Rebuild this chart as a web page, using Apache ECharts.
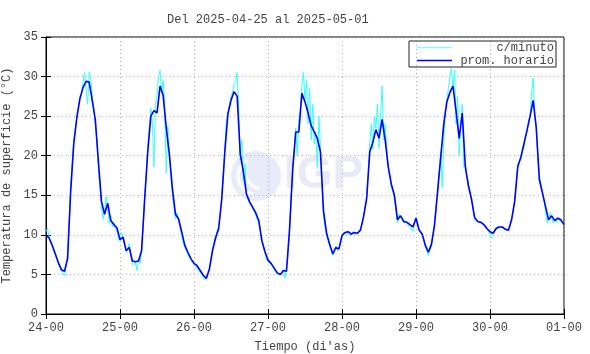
<!DOCTYPE html>
<html>
<head>
<meta charset="utf-8">
<script src="https://cdn.jsdelivr.net/npm/echarts@6/dist/echarts.min.js"></script>
<style>
html,body{margin:0;padding:0;background:#fff;}
#c{width:590px;height:354px;}
</style>
</head>
<body>
<div id="c"></div>
<script>
// ---- data ----
var titleText = 'Del 2025-04-25 al 2025-05-01';
var tickLabels = ['24-00','25-00','26-00','27-00','28-00','29-00','30-00','01-00'];
var seriesNames = ['c/minuto','prom. horario'];

// hourly averages (one value per hour, day by day)
var hourly24 = [10.0,9.6,8.7,7.6,6.5,5.6,5.4,7.0,15.5,21.5,24.8,27.2,28.6,29.4,29.3,27.0,24.5,19.2,14.2,12.6,14.0,11.8,11.3,10.9];
var hourly25 = [9.4,9.7,8.0,8.4,6.7,6.6,6.7,8.0,14.5,20.5,25.0,25.7,25.4,28.8,27.6,23.5,20.2,15.8,12.6,12.0,10.4,8.7,7.8,7.0];
var hourly26 = [6.4,6.1,5.5,4.9,4.5,5.7,8.0,9.6,10.8,14.5,20.5,25.3,27.0,28.1,27.5,20.2,18.0,15.2,14.2,13.5,12.8,11.8,9.3,7.9];
var hourly27 = [6.8,6.4,5.8,5.2,5.0,5.5,5.4,10.8,18.2,23.0,23.0,27.9,26.8,25.4,23.8,23.0,22.2,20.5,13.0,10.2,8.8,7.6,8.4,8.2];
var hourly28 = [9.9,10.3,10.4,10.1,10.3,10.2,10.6,12.3,14.6,20.5,21.7,23.3,22.2,24.6,22.0,18.6,16.4,15.0,11.9,12.4,11.7,11.6,11.3,11.0];
var hourly29 = [12.1,10.6,10.1,8.7,7.8,8.8,11.2,15.5,19.7,24.0,26.8,28.0,28.8,25.6,22.2,25.4,18.6,16.2,14.5,12.2,11.7,11.6,11.3,10.8];
var hourly30 = [10.4,10.2,10.8,11.0,11.0,10.7,10.6,11.9,14.2,18.6,19.8,21.5,23.2,25.0,27.0,23.5,17.0,15.3,13.6,11.9,12.4,11.8,12.1,11.9];
var hourlyEnd = [11.3];

// minute readings, sampled every 30 minutes (two values per hour)
var minute24 = [10.4,10.8,9.8,9.0,8.6,8.0,7.5,7.0,6.3,5.9,5.5,5.3,4.8,6.0,7.5,11.5,16.0,19.0,21.8,23.5,25.0,26.2,27.5,28.0,29.2,30.5,30.3,26.5,30.6,29.8,27.5,26.0,24.0,22.0,18.5,16.0,13.5,12.0,13.0,14.8,13.5,11.5,12.4,11.0,11.6,10.8,10.5,9.5];
var minute25 = [9.2,10.3,9.8,8.5,7.8,8.2,8.9,7.5,6.2,6.0,6.5,5.5,7.0,6.4,8.2,11.0,15.0,17.5,21.0,23.5,26.0,24.0,18.6,26.5,27.5,30.0,30.8,28.0,29.5,26.0,17.8,23.7,20.5,17.5,15.0,13.5,12.0,12.8,12.0,10.8,9.8,9.0,8.4,8.0,7.5,7.2,7.0,6.5];
var minute26 = [6.3,6.0,6.0,5.5,5.3,5.0,4.8,4.3,4.3,5.0,5.8,6.5,8.2,9.0,9.8,10.5,11.0,12.5,15.0,17.5,21.0,24.5,25.0,26.5,27.5,28.0,29.0,29.5,30.5,26.0,19.5,22.0,17.0,19.0,15.0,14.8,14.0,13.9,13.4,13.2,12.5,12.0,11.6,10.5,9.0,8.5,7.6,7.0];
var minute27 = [6.6,6.5,6.3,6.0,5.6,5.4,5.0,4.8,5.0,5.3,5.6,4.5,4.3,7.5,10.5,14.5,18.5,21.0,23.5,20.0,24.5,26.0,29.0,30.5,27.0,29.5,24.0,28.5,22.0,26.5,21.5,23.0,18.5,25.0,21.0,17.0,12.5,11.0,10.0,9.2,8.6,8.0,7.4,7.8,8.6,8.0,8.2,9.0];
var minute28 = [10.0,10.3,10.4,10.2,10.4,10.0,10.0,10.4,10.3,10.0,10.2,10.4,10.8,11.5,12.5,13.5,14.8,17.5,21.5,24.0,20.8,25.0,23.5,26.5,21.0,25.0,28.8,22.0,24.0,21.0,18.5,17.5,16.0,15.5,14.5,13.0,11.5,12.6,12.8,12.0,11.5,11.8,11.4,11.6,11.0,11.2,10.4,11.5];
var minute29 = [12.3,11.5,10.8,10.3,9.8,9.5,8.5,8.0,7.4,7.6,8.6,9.8,11.5,13.5,15.0,18.0,20.5,16.0,22.0,25.5,27.0,28.5,30.0,31.0,28.5,30.8,24.0,27.5,20.0,24.0,26.5,18.6,19.0,17.5,16.5,15.5,14.5,13.5,12.0,12.2,11.6,11.8,11.5,11.4,11.2,11.0,10.7,10.4];
var minute30 = [10.3,9.6,10.2,10.6,10.8,11.1,11.0,10.9,11.0,10.8,10.6,10.5,10.6,11.0,12.0,13.0,14.5,16.5,19.0,19.0,19.5,20.5,21.0,22.5,23.0,24.5,25.0,28.0,29.8,25.0,24.0,20.0,17.5,16.5,15.5,14.5,13.0,11.5,12.0,12.8,12.2,11.5,12.0,11.6,12.2,11.8,12.0,11.6];
var minuteEnd = [11.3];

// ---- build series data (x in hours since 24-00) ----
var hourlyAll = [].concat(hourly24,hourly25,hourly26,hourly27,hourly28,hourly29,hourly30,hourlyEnd);
var minuteAll = [].concat(minute24,minute25,minute26,minute27,minute28,minute29,minute30,minuteEnd);
var hourlyData = hourlyAll.map(function(v,i){ return [i, v]; });
var minuteData = minuteAll.map(function(v,i){ return [i*0.5, v]; });

var FONT = '"Liberation Mono","DejaVu Sans Mono",monospace';
var TXT = '#444';

var chart = echarts.init(document.getElementById('c'), null, {renderer:'canvas'});
chart.setOption({
  animation:false,
  backgroundColor:'#fff',
  title:{
    text:titleText, left:162, top:9,
    textStyle:{fontFamily:FONT, fontSize:12, fontWeight:'normal', color:TXT}
  },
  legend:{
    orient:'vertical', left:409, top:41,
    data:[
      {name:seriesNames[0], icon:'rect', itemStyle:{color:'#8ff'}},
      {name:seriesNames[1], icon:'rect', itemStyle:{color:'#0000ff'}}
    ],
    itemWidth:35, itemHeight:1.5, itemGap:0,
    padding:[0,2,0,8],
    borderColor:'#222', borderWidth:1,
    formatter:function(n){ return '{a|'+n+'}'; },
    textStyle:{fontFamily:FONT, fontSize:12, color:TXT,
      rich:{a:{width:97, height:13, lineHeight:13, align:'right', fontFamily:FONT, fontSize:12, color:TXT}}}
  },
  grid:{left:46, right:26, top:37, bottom:40, outerBoundsMode:'none', containLabel:false,
    show:true, borderColor:'#000', borderWidth:1, backgroundColor:'transparent'},
  graphic:[
    {type:'circle', shape:{cx:256, cy:176, r:25}, style:{fill:'#e8ecfa'}, z:-1, silent:true},
    {type:'arc', shape:{cx:256, cy:176, r:18, startAngle:Math.PI*0.55, endAngle:Math.PI*1.35}, style:{stroke:'#fff', lineWidth:3, fill:null}, z:-1, silent:true},
    {type:'arc', shape:{cx:266, cy:168, r:22, startAngle:Math.PI*0.6, endAngle:Math.PI*1.1}, style:{stroke:'#fff', lineWidth:3, fill:null}, z:-1, silent:true},
    {type:'text', left:284, top:152, style:{text:'IGP', fontFamily:'"Liberation Sans",Arial,sans-serif', fontWeight:'bold', fontSize:46, fill:'#eaeaf7'}, z:-1, silent:true}
  ],
  xAxis:[{
    type:'value', min:0, max:168, interval:24,
    name:"Tiempo (di'as)", nameLocation:'middle', nameGap:27,
    nameTextStyle:{fontFamily:FONT, fontSize:12, color:TXT},
    axisLine:{show:true, lineStyle:{color:'#000'}},
    axisTick:{show:true, inside:true, length:5, lineStyle:{color:'#000'}},
    axisLabel:{fontFamily:FONT, fontSize:12, color:TXT, margin:8,
      formatter:function(v){ return tickLabels[Math.round(v/24)]; }},
    splitLine:{show:true, lineStyle:{color:'#b0b0b0', type:[1,3], width:1}}
  },{
    type:'value', min:0, max:168, interval:24, position:'top',
    axisLine:{show:true, lineStyle:{color:'#000'}},
    axisTick:{show:true, inside:true, length:5, lineStyle:{color:'#000'}},
    axisLabel:{show:false}, splitLine:{show:false}
  }],
  yAxis:[{
    type:'value', min:0, max:35, interval:5,
    name:'Temperatura de superficie (°C)', nameLocation:'middle', nameGap:30,
    nameTextStyle:{fontFamily:FONT, fontSize:12, color:TXT},
    axisLine:{show:true, lineStyle:{color:'#000'}},
    axisTick:{show:true, inside:true, length:5, lineStyle:{color:'#000'}},
    axisLabel:{fontFamily:FONT, fontSize:12, color:TXT, margin:8},
    splitLine:{show:true, lineStyle:{color:'#b0b0b0', type:[1,3], width:1}}
  },{
    type:'value', min:0, max:35, interval:5, position:'right',
    axisLine:{show:true, lineStyle:{color:'#000'}},
    axisTick:{show:true, inside:true, length:5, lineStyle:{color:'#000'}},
    axisLabel:{show:false}, splitLine:{show:false}
  }],
  series:[{
    name:seriesNames[0], type:'line', data:minuteData, symbol:'none',
    lineStyle:{color:'#3ff', width:1}, itemStyle:{color:'#3ff'}, z:2
  },{
    name:seriesNames[1], type:'line', data:hourlyData, symbol:'none',
    lineStyle:{color:'#0000ff', width:1.6}, itemStyle:{color:'#0000ff'}, z:3
  }]
});
</script>
</body>
</html>
